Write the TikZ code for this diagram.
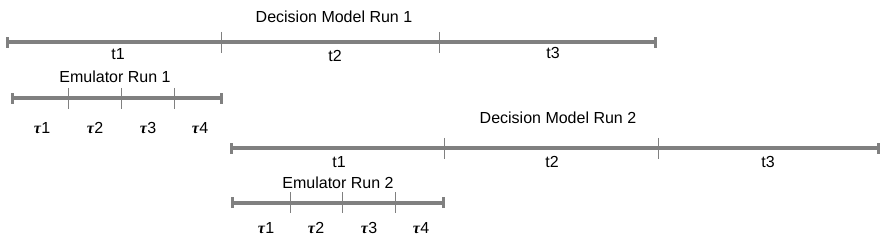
\documentclass[tikz,border=0pt]{standalone}
\usepackage{fontspec}
\setmainfont{Liberation Sans}
\newfontfamily\taufont{Liberation Serif}[UprightFont={* Bold Italic}]
\definecolor{linegray}{RGB}{128,128,128}
\tikzset{
  mainline/.style={draw=linegray, line width=4pt},
  endcap/.style={draw=linegray, line width=3pt},
  tickline/.style={draw=linegray, line width=0.8pt},
  lbl/.style={font=\fontsize{16}{18}\selectfont, inner sep=0pt, text=black},
}
\newcommand{\tauL}[1]{{\taufont τ}\kern0.5pt#1}
\begin{document}
\begin{tikzpicture}[x=1pt,y=-1pt]
\useasboundingbox (0,0) rectangle (886,243);
% Decision Model Run 1
\node[lbl] (d1title) at (334,17) {Decision Model Run 1};
\coordinate (d1a) at (7,42.5);
\coordinate (d1b) at (655,42.5);
\draw[mainline] (d1a) -- (d1b);
\draw[endcap] ([yshift=-5.5pt]d1a) -- ([yshift=5.5pt]d1a);
\draw[endcap] ([yshift=-5.5pt]d1b) -- ([yshift=5.5pt]d1b);
\coordinate (d1t1) at (221,32); \coordinate (d1t1e) at (221,53);
\coordinate (d1t2) at (439,32); \coordinate (d1t2e) at (439,53);
\draw[tickline] (d1t1) -- (d1t1e);
\draw[tickline] (d1t2) -- (d1t2e);
\node[lbl] (d1l1) at (118,54) {t1};
\node[lbl] (d1l2) at (335,56) {t2};
\node[lbl] (d1l3) at (553,53) {t3};
% Emulator Run 1
\node[lbl] (e1title) at (115,77) {Emulator Run 1};
\coordinate (e1a) at (12,98.5);
\coordinate (e1b) at (221,98.5);
\draw[mainline] (e1a) -- (e1b);
\draw[endcap] ([yshift=-5.5pt]e1a) -- ([yshift=5.5pt]e1a);
\draw[endcap] ([yshift=-5.5pt]e1b) -- ([yshift=5.5pt]e1b);
\foreach \x/\n in {68/a,121/b,174/c}{
  \coordinate (e1t\n) at (\x,88); \coordinate (e1t\n e) at (\x,109);
  \draw[tickline] (e1t\n) -- (e1t\n e);
}
\node[lbl] (e1l1) at (42,128) {\tauL{1}};
\node[lbl] (e1l2) at (95,128) {\tauL{2}};
\node[lbl] (e1l3) at (148,128) {\tauL{3}};
\node[lbl] (e1l4) at (200,128) {\tauL{4}};
% Decision Model Run 2
\node[lbl] (d2title) at (558,118) {Decision Model Run 2};
\coordinate (d2a) at (231,148.5);
\coordinate (d2b) at (878,148.5);
\draw[mainline] (d2a) -- (d2b);
\draw[endcap] ([yshift=-5.5pt]d2a) -- ([yshift=5.5pt]d2a);
\draw[endcap] ([yshift=-5.5pt]d2b) -- ([yshift=5.5pt]d2b);
\coordinate (d2t1) at (444,138); \coordinate (d2t1e) at (444,159);
\coordinate (d2t2) at (658,138); \coordinate (d2t2e) at (658,159);
\draw[tickline] (d2t1) -- (d2t1e);
\draw[tickline] (d2t2) -- (d2t2e);
\node[lbl] (d2l1) at (339,162) {t1};
\node[lbl] (d2l2) at (552,162) {t2};
\node[lbl] (d2l3) at (768,162) {t3};
% Emulator Run 2
\node[lbl] (e2title) at (338,183) {Emulator Run 2};
\coordinate (e2a) at (232,202.5);
\coordinate (e2b) at (443,202.5);
\draw[mainline] (e2a) -- (e2b);
\draw[endcap] ([yshift=-5.5pt]e2a) -- ([yshift=5.5pt]e2a);
\draw[endcap] ([yshift=-5.5pt]e2b) -- ([yshift=5.5pt]e2b);
\foreach \x/\n in {290/a,342/b,395/c}{
  \coordinate (e2t\n) at (\x,192); \coordinate (e2t\n e) at (\x,213);
  \draw[tickline] (e2t\n) -- (e2t\n e);
}
\node[lbl] (e2l1) at (266,228) {\tauL{1}};
\node[lbl] (e2l2) at (316,228) {\tauL{2}};
\node[lbl] (e2l3) at (369,228) {\tauL{3}};
\node[lbl] (e2l4) at (421,228) {\tauL{4}};
\end{tikzpicture}
\end{document}
